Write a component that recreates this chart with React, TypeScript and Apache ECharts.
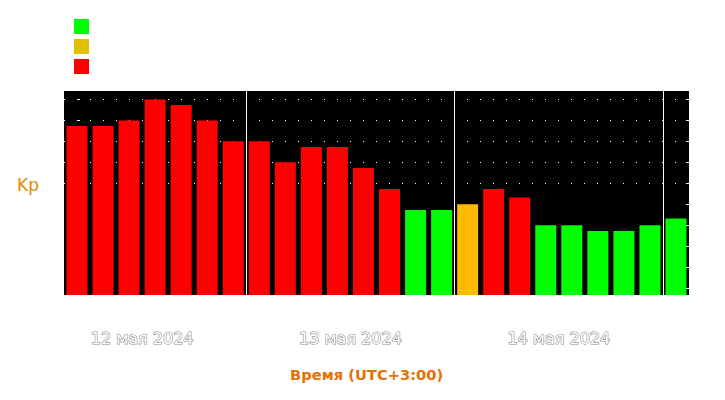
import React, { useEffect, useRef } from 'react';
import * as echarts from 'echarts';

// Start hour (UTC+3) of each 3-hour Kp interval
const hours = ['03', '06', '09', '12', '15', '18', '21',
  '00', '03', '06', '09', '12', '15', '18', '21',
  '00', '03', '06', '09', '12', '15', '18', '21',
  '00'];
const kpValues = [7.73, 7.73, 8, 9, 8.73, 8, 7,
  7, 6, 6.73, 6.73, 5.73, 4.73, 3.73, 3.73,
  4, 4.73, 4.33, 3, 3, 2.73, 2.73, 3,
  3.33];
const dayLabels = ['12 мая 2024', '13 мая 2024', '14 мая 2024'];
const yTicks = [0, 1, 2, 3, 4, 5, 6, 7, 8, 9];
const stormTicks = [5, 6, 7, 8, 9];
const legendNames = ['Kp < 4', 'Kp = 4', 'Kp > 4'];

const GREEN = '#00ff00';
const YELLOW = '#ffbb00';
const LEGEND_YELLOW = '#e0c000';
const RED = '#ff0000';

export default function App() {
  const ref = useRef<HTMLDivElement>(null);
  useEffect(() => {
    if (!ref.current) return;
    const chart = echarts.init(ref.current, null, { renderer: 'svg' });

    const categories = hours.map((h, i) => `${i}-${h}`);
    // day boundaries (midnight UTC+3) between bars
    const boundaries: number[] = [];
    hours.forEach((h, i) => { if (h === '00' && i > 0) boundaries.push(i - 0.5); });
    const labelPos = boundaries.map((b) => b - 4);
    const yMin = -0.32;
    const yMax = 9.4;

    const pick = (fn: (v: number) => boolean) => kpValues.map((v) => (fn(v) ? v : null));
    const greenData = pick((v) => v < 3.9);
    const yellowData = pick((v) => v >= 3.9 && v <= 4.1);
    const redData = pick((v) => v > 4.1);

    const barBase = {
      type: 'bar' as const,
      xAxisIndex: 0,
      yAxisIndex: 0,
      barWidth: 21,
      barGap: '-100%',
    };

    chart.setOption({
      animation: false,
      backgroundColor: '#ffffff',
      title: [
        {
          text: 'Kp',
          left: 12,
          top: 171,
          textStyle: { color: '#e08a00', fontSize: 17, fontWeight: 'normal', fontFamily: 'DejaVu Sans' },
        },
        {
          text: 'Время (UTC+3:00)',
          left: 285,
          top: 362,
          textStyle: { color: '#e87000', fontSize: 14.7, fontWeight: 'bold', fontFamily: 'DejaVu Sans' },
        },
      ],
      legend: {
        orient: 'vertical',
        left: 69,
        top: 14,
        itemWidth: 15,
        itemHeight: 15,
        itemGap: 5,
        icon: 'rect',
        selectedMode: false,
        formatter: () => '',
        data: [
          { name: legendNames[0], itemStyle: { color: GREEN } },
          { name: legendNames[1], itemStyle: { color: LEGEND_YELLOW } },
          { name: legendNames[2], itemStyle: { color: RED } },
        ],
      },
      grid: {
        left: 64,
        right: 36,
        top: 91,
        bottom: 105,
        show: true,
        backgroundColor: '#000000',
        borderWidth: 0,
      },
      xAxis: [
        {
          type: 'category',
          data: categories,
          show: false,
        },
        {
          type: 'value',
          position: 'bottom',
          min: -0.5,
          max: hours.length - 0.5,
          axisLine: { show: false },
          axisTick: { show: false, customValues: boundaries },
          splitLine: { show: true, lineStyle: { color: '#ffffff', width: 1 } },
          axisLabel: {
            customValues: labelPos,
            margin: 35,
            fontSize: 16,
            fontFamily: 'DejaVu Sans',
            color: '#ffffff',
            textBorderColor: '#8c8c8c',
            textBorderWidth: 1.2,
            formatter: (v: number) => {
              const i = labelPos.findIndex((p) => Math.abs(p - v) < 1e-6);
              return i >= 0 ? dayLabels[i] : '';
            },
          },
        },
      ],
      yAxis: [
        {
          type: 'value',
          position: 'left',
          min: yMin,
          max: yMax,
          startValue: yMin,
          axisLine: { show: false },
          axisLabel: { show: false },
          splitLine: { show: false },
          axisTick: {
            show: true,
            inside: true,
            length: 3,
            customValues: yTicks,
            lineStyle: { color: '#ffffff', width: 1 },
          },
        },
        {
          type: 'value',
          position: 'right',
          min: yMin,
          max: yMax,
          axisLine: { show: false },
          axisLabel: { show: false },
          splitLine: { show: false },
          axisTick: {
            show: true,
            inside: true,
            length: 3,
            customValues: yTicks,
            lineStyle: { color: '#ffffff', width: 1 },
          },
        },
        {
          type: 'value',
          position: 'left',
          min: yMin,
          max: yMax,
          axisLine: { show: false },
          axisLabel: { show: false },
          axisTick: { show: false, customValues: stormTicks },
          splitLine: { show: true, lineStyle: { color: '#ffffff', width: 1, type: [1, 12] } },
        },
      ],
      series: [
        { ...barBase, name: legendNames[0], data: greenData, itemStyle: { color: GREEN } },
        { ...barBase, name: legendNames[1], data: yellowData, itemStyle: { color: YELLOW } },
        { ...barBase, name: legendNames[2], data: redData, itemStyle: { color: RED } },
      ],
    });
    return () => chart.dispose();
  }, []);

  return (
    <div
      ref={ref}
      style={{ position: 'absolute', left: 0, top: 0, width: 725, height: 400 }}
    />
  );
}
